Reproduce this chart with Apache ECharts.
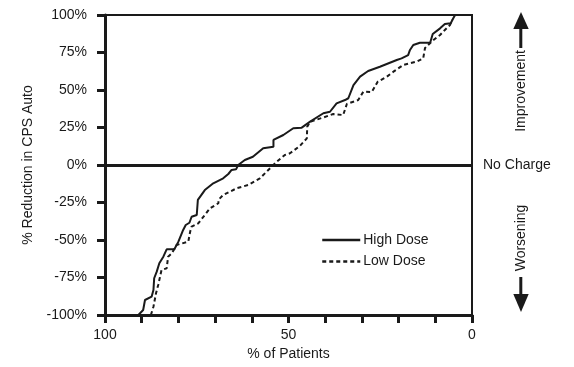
<!DOCTYPE html>
<html>
<head>
<meta charset="utf-8">
<script src="https://cdn.jsdelivr.net/npm/echarts@6/dist/echarts.min.js"></script>
<style>
html,body{margin:0;padding:0;background:#fff;}
#chart{width:574px;height:367px;}
</style>
</head>
<body>
<div id="chart"></div>
<script>
// % of patients (x) and % reduction in CPS Auto (y)
var highDoseX = [90.9, 89.6, 89.1, 87.3, 86.8, 86.6, 85.9, 85.2, 84.1, 83.2, 81.1, 80.0, 78.7, 78.0, 77.0, 76.4, 75.0, 74.7, 72.8, 70.5, 67.8, 66.4, 65.5, 64.3, 63.7, 61.9, 59.7, 56.9, 54.1, 54.1, 51.4, 48.7, 46.4, 44.1, 40.5, 38.7, 36.9, 34.6, 33.7, 32.3, 30.5, 28.3, 25.1, 20.5, 19.2, 17.4, 16.9, 16.0, 14.2, 11.4, 10.7, 8.7, 7.4, 5.8, 5.1, 4.6];
var highDoseY = [-100, -96.7, -90, -87.8, -83.3, -75.5, -71.1, -65.5, -61.1, -56.2, -56.2, -51.1, -43.3, -40, -38.5, -34.5, -33.3, -23.3, -16.7, -12.2, -8.9, -6, -3.3, -2.9, 0, 3.3, 5.5, 11.1, 12.2, 16.7, 20, 24.5, 24.9, 28.9, 34.5, 35.5, 41.1, 43.3, 44.5, 53.3, 58.9, 62.7, 65.5, 70, 71.1, 73.3, 76.7, 80, 81.5, 81.5, 87.3, 91.1, 94, 94.5, 97.8, 100];
var lowDoseX = [87.5, 86.8, 86.1, 85.5, 84.6, 83.2, 82.8, 81.8, 80.5, 77.3, 76.8, 76.4, 74.6, 72.8, 71.4, 69.1, 69.1, 67.8, 64.1, 61.0, 57.8, 55.5, 53.2, 51.0, 49.6, 46.9, 45.0, 44.9, 44.1, 40.5, 37.8, 35.1, 34.1, 31.0, 29.6, 27.3, 25.7, 23.2, 21.4, 18.7, 15.1, 13.3, 12.8, 10.5, 8.7, 7.4, 6.0, 5.4];
var lowDoseY = [-100, -94.5, -85.5, -80, -70, -68.9, -61.1, -58.9, -53.3, -51.1, -44.5, -41.1, -38.9, -33.3, -28.9, -25.5, -23.3, -20, -15.5, -13.3, -8.9, -3.3, 2.2, 6.7, 7.8, 12.7, 17.8, 25.5, 28.9, 31.7, 34, 33.3, 40.7, 43.3, 48.9, 48.7, 55.5, 58.9, 62.2, 66.7, 68.9, 71.1, 78, 83.3, 86.7, 90, 93.3, 96.7];
var xTickLabels = [0, 50, 100];
var seriesNames = ['High Dose', 'Low Dose'];

function zip(xs, ys) { return xs.map(function (x, i) { return [x, ys[i]]; }); }

var FONT = 'Liberation Sans';
var INK = '#1a1a1a';
var chart = echarts.init(document.getElementById('chart'), null, { renderer: 'canvas' });

chart.setOption({
  animation: false,
  backgroundColor: '#fff',
  textStyle: { fontFamily: FONT, color: INK },
  grid: { left: 105, right: 102, top: 15, bottom: 52, show: true, borderColor: INK, borderWidth: 2, backgroundColor: 'transparent' },
  legend: {
    orient: 'vertical', left: 321, top: 233, padding: 0,
    itemWidth: 38, itemHeight: 14, itemGap: 7.5,
    itemStyle: { opacity: 0, borderWidth: 0 },
    lineStyle: { width: 2.5 },
    textStyle: { fontFamily: FONT, fontSize: 14, color: INK, padding: [0, 0, 0, -2] },
    data: seriesNames
  },
  xAxis: {
    type: 'value', inverse: true, min: 0, max: 100, interval: 10,
    name: '% of Patients', nameLocation: 'middle', nameGap: 31,
    nameTextStyle: { fontFamily: FONT, fontSize: 14, color: INK },
    axisLine: { show: true, onZero: false, lineStyle: { color: INK, width: 3 } },
    axisTick: { show: true, length: 8, lineStyle: { color: INK, width: 3 } },
    axisLabel: {
      fontFamily: FONT, fontSize: 14, color: INK, margin: 13,
      formatter: function (v) { return xTickLabels.indexOf(v) >= 0 ? String(v) : ''; }
    },
    splitLine: { show: false }
  },
  yAxis: {
    type: 'value', min: -100, max: 100, interval: 25,
    name: '% Reduction in CPS Auto', nameLocation: 'middle', nameGap: 70,
    nameTextStyle: { fontFamily: FONT, fontSize: 14, color: INK },
    axisLine: { show: true, onZero: false, lineStyle: { color: INK, width: 3 } },
    axisTick: { show: true, length: 8, lineStyle: { color: INK, width: 3 } },
    axisLabel: { fontFamily: FONT, fontSize: 14, color: INK, margin: 18, formatter: '{value}%' },
    splitLine: { show: false }
  },
  series: [
    {
      name: seriesNames[0], type: 'line', data: zip(highDoseX, highDoseY),
      symbol: 'none', showSymbol: false, smooth: false, z: 3,
      lineStyle: { color: INK, width: 2 }, itemStyle: { color: INK },
      markLine: {
        silent: true, symbol: 'none', label: { show: false },
        lineStyle: { color: INK, width: 3, type: 'solid' },
        data: [{ yAxis: 0 }]
      }
    },
    {
      name: seriesNames[1], type: 'line', data: zip(lowDoseX, lowDoseY),
      symbol: 'none', showSymbol: false, smooth: false, z: 2,
      lineStyle: { color: INK, width: 2, type: [4, 3] }, itemStyle: { color: INK }
    }
  ],
  graphic: [
    { type: 'text', left: 483, top: 158, style: { text: 'No Charge', font: '14px "Liberation Sans"', fill: INK } },
    { type: 'text', x: 521, y: 91, rotation: Math.PI / 2,
      style: { text: 'Improvement', font: '14px "Liberation Sans"', fill: INK, align: 'center', verticalAlign: 'middle' } },
    { type: 'rect', shape: { x: 519.3, y: 26, width: 3, height: 22 }, style: { fill: INK } },
    { type: 'polygon', shape: { points: [[521, 12], [513.3, 29], [528.7, 29]] }, style: { fill: INK } },
    { type: 'text', x: 521, y: 238, rotation: Math.PI / 2,
      style: { text: 'Worsening', font: '14px "Liberation Sans"', fill: INK, align: 'center', verticalAlign: 'middle' } },
    { type: 'rect', shape: { x: 519.3, y: 277, width: 3, height: 19 }, style: { fill: INK } },
    { type: 'polygon', shape: { points: [[521, 312], [513.3, 294], [528.7, 294]] }, style: { fill: INK } }
  ]
});
</script>
</body>
</html>
